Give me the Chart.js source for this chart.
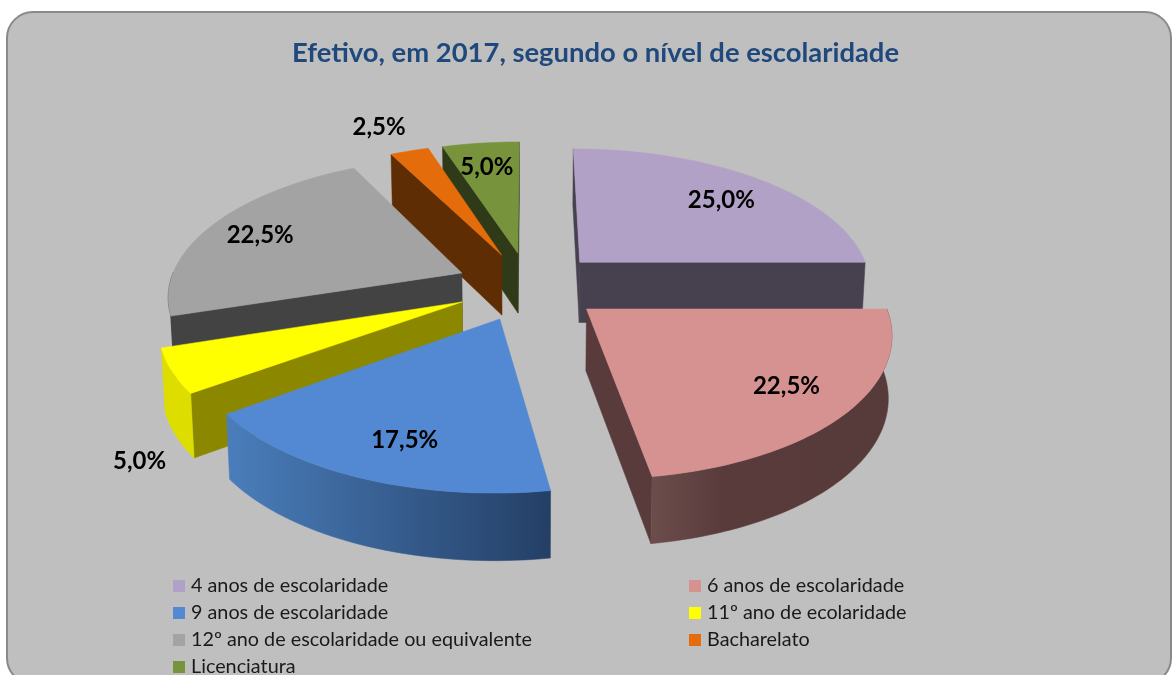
<!DOCTYPE html>
<html><head><meta charset="utf-8">
<style>html,body{margin:0;padding:0;background:#fff;overflow:hidden}canvas{display:block}</style>
<script src="https://cdn.jsdelivr.net/npm/chart.js@4/dist/chart.umd.min.js"></script>
</head><body><canvas id="c" width="1174" height="675"></canvas>
<script>
const categories = ["4 anos de escolaridade","6 anos de escolaridade","9 anos de escolaridade","11º ano de ecolaridade","12º ano de escolaridade ou equivalente","Bacharelato","Licenciatura"];
const values = [25.0,22.5,17.5,5.0,22.5,2.5,5.0];
const topColors = ["#B2A1C7","#D69290","#5389D2","#FFFF00","#A3A3A3","#E46C0A","#77933C"];
const wallColors = ["#47404F","#593B3B","#2F5080","#8B8800","#434343","#5F2D04","#2F3A18"];
const title = "Efetivo, em 2017, segundo o nível de escolaridade";

// view settings for the tilted pie
const VIEW = {cx:529, cy:286, A:293, B:137, p:0.15, depth:61, shrink:0.99};
const PAINT_ORDER = [0,6,5,4,3,1,2];
// label placement within each slice: fraction of radius, fraction of sweep
const LABEL_POS = [[.75,.52],[.78,.49],[.78,.46],[1.31,-.62],[.795,.49],[1.28,.32],[.76,.47]];
const LEG = {cols:[173,689], top:586, step:27, box:12, gap:6};

function proj(X,Y,down){
  const w = 1+VIEW.p*Y;
  let sx = VIEW.A*X/w, sy = -VIEW.B*Y/w;
  if(down){ sx*=VIEW.shrink; sy+=VIEW.depth/Math.sqrt(w); }
  return [VIEW.cx+sx, VIEW.cy+sy];
}
function slicePts(a){
  const R=a.outerRadius, mid=(a.startAngle+a.endAngle)/2, o=a.options.offset/R;
  const ax=Math.cos(mid)*o, ay=-Math.sin(mid)*o;
  const N=Math.max(4,Math.ceil((a.endAngle-a.startAngle)*40));
  const rim=[], front=[];
  for(let i=0;i<=N;i++){ const t=a.startAngle+(a.endAngle-a.startAngle)*i/N;
    rim.push([ax+Math.cos(t), ay-Math.sin(t)]); front.push(Math.sin(t)>-0.02); }
  return {apex:[ax,ay],rim,front};
}
function poly(ctx,pts,fill){
  ctx.beginPath();
  pts.forEach((p,i)=> i?ctx.lineTo(p[0],p[1]):ctx.moveTo(p[0],p[1]));
  ctx.closePath(); ctx.fillStyle=fill; ctx.fill(); ctx.strokeStyle=fill; ctx.lineWidth=.5; ctx.stroke();
}
function outerFill(ctx,i,rimT){
  const xs=rimT.map(p=>p[0]), x0=Math.min(...xs), x1=Math.max(...xs);
  if(i===2){ const g=ctx.createLinearGradient(x0,0,x1,0); g.addColorStop(0,"#4A7EBB"); g.addColorStop(1,"#243F66"); return g; }
  if(i===1){ const g=ctx.createLinearGradient(650,0,x1,0); g.addColorStop(0,"#6B4E4C"); g.addColorStop(.3,"#593B3B"); g.addColorStop(1,"#573A3A"); return g; }
  if(i===3) return "#DDDD00";
  return wallColors[i];
}
function wallVisible(a,r,m){
  const ex=r[0]-a[0], ey=r[1]-a[1];
  const downSide=ex, inner=ex*(m[1]-a[1])-ey*(m[0]-a[0]);
  return downSide*inner<0 || Math.abs(ex)<4;
}
const pie3d = {
  id:"pie3d",
  beforeDraw(chart){
    const c=chart.ctx; c.save();
    c.fillStyle="#fff"; c.fillRect(0,0,1174,675);
    c.beginPath(); c.roundRect(7,12,1164,672,26);
    c.fillStyle="#BFBFBF"; c.fill(); c.lineWidth=2; c.strokeStyle="#8A8A8A"; c.stroke();
    c.restore();
  },
  beforeDatasetDraw(chart){
    const c=chart.ctx, arcs=chart.getDatasetMeta(0).data;
    c.save();
    PAINT_ORDER.forEach(i=>{
      const s=slicePts(arcs[i]);
      const aT=proj(...s.apex), aB=proj(...s.apex,true);
      const rT=s.rim.map(p=>proj(...p)), rB=s.rim.map(p=>proj(...p,true));
      const n=rT.length-1, m=rT[Math.floor(n/2)];
      if(wallVisible(aT,rT[0],m)) poly(c,[aT,rT[0],rB[0],aB],wallColors[i]);
      if(wallVisible(aT,rT[n],m)) poly(c,[aT,rT[n],rB[n],aB],wallColors[i]);
      const fT=rT.filter((p,k)=>s.front[k]), fB=rB.filter((p,k)=>s.front[k]);
      if(fT.length>1) poly(c,fT.concat(fB.slice().reverse()),outerFill(c,i,rT));
      poly(c,[aT].concat(rT),topColors[i]);
    });
    // value labels
    c.fillStyle="#000"; c.textAlign="center"; c.textBaseline="middle"; c.font="bold 24px Lato";
    arcs.forEach((a,i)=>{
      const s=slicePts(a), [f,g]=LABEL_POS[i], t=a.startAngle+(a.endAngle-a.startAngle)*g;
      const p=proj(s.apex[0]+f*Math.cos(t), s.apex[1]-f*Math.sin(t));
      c.fillText(values[i].toFixed(1).replace(".",",")+"%",p[0],p[1]);
    });
    c.restore();
    return false;
  },
  afterDraw(chart){
    const c=chart.ctx; c.save();
    c.textAlign="left"; c.textBaseline="middle"; c.font="19.8px Lato";
    categories.forEach((t,i)=>{
      const x=LEG.cols[i%2], y=LEG.top+LEG.step*Math.floor(i/2);
      c.fillStyle=topColors[i]; c.fillRect(x,y-6,LEG.box,LEG.box);
      c.fillStyle="#1a1a1a"; c.fillText(t,x+LEG.box+LEG.gap,y);
    });
    c.restore();
  }
};
new Chart(document.getElementById("c"),{
  type:"pie",
  data:{labels:categories,datasets:[{data:values,backgroundColor:topColors,offset:67.6,borderWidth:0}]},
  options:{
    responsive:false,animation:false,
    layout:{padding:{left:17,top:37}},
    plugins:{
      legend:{display:false},tooltip:{enabled:false},
      title:{display:true,text:title,color:"#1F497D",font:{family:"Lato",size:27.4,weight:"bold"},padding:{top:0,bottom:0}}
    }
  },
  plugins:[pie3d]
});
</script></body></html>
